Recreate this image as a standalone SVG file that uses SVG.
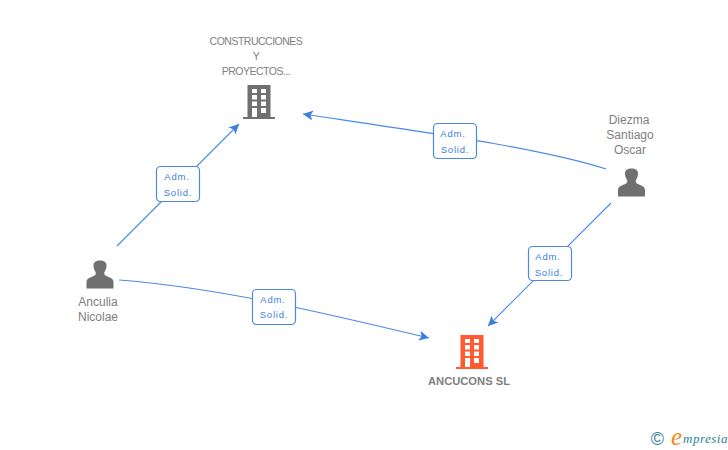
<svg xmlns="http://www.w3.org/2000/svg" width="728" height="450" viewBox="0 0 728 450">
<style>
.lab{font-family:"Liberation Sans",Arial,sans-serif;font-size:12px;fill:#808080;text-anchor:middle}
.up{font-size:10.500px;letter-spacing:-.5px}
.t{font-family:"Liberation Sans",Arial,sans-serif;font-size:9.500px;letter-spacing:.8px;fill:#3b7fdd;text-anchor:middle}
.box{fill:#fff;stroke:#4a8ae4;stroke-width:1.200}
.c{fill:none;stroke:#4a8ae4;stroke-width:1.100}
</style>
<defs>
<marker id="a" markerUnits="userSpaceOnUse" markerWidth="12" markerHeight="10" refX="10" refY="5" orient="auto"><path d="M0 0L10 5L0 10L2.500 5Z" fill="#3b7fdd"/></marker>
<g id="person"><path d="M-13.500 14V7.500C-13.500 3.500-9 3-5.500 1C-4 0-4-1.500-4.500-2.500C-6-5-6.500-7-6.500-9.500C-6.500-12-4-14 0-14C4-14 6.500-12 6.500-9.500C6.500-7 6-5 4.500-2.500C4-1.500 4 0 5.500 1C9 3 13.500 3.500 13.500 7.500V14Z" fill="#707070"/></g>
<g id="building"><path fill-rule="evenodd" d="M-11.500-17H11.500V15H16V17H-16V15H-11.500ZM-7-13V-9H-2V-13ZM2-13V-9H7V-13ZM-7-7V-2.500H-2V-7ZM2-7V-2.500H7V-7ZM-7-0.500V4H-2V-0.500ZM2-0.500V4H7V-0.500ZM-7 6V15H-2V6ZM2 6V11H7V6Z"/></g>
</defs>
<g id="connectors">
<path class="c" d="M117 246L239 124" marker-end="url(#a)"/>
<path class="c" d="M606 169C540 148 430 133 303 114" marker-end="url(#a)"/>
<path class="c" d="M611 203L488 326" marker-end="url(#a)"/>
<path class="c" d="M119 280C220 288 320 312 429 338" marker-end="url(#a)"/>
<g id="l1"><rect class="box" x="156.500" y="166.500" width="43" height="35" rx="4"/><text class="t" x="177" y="180">Adm.</text><text class="t" x="178" y="196">Solid.</text></g>
<g id="l2"><rect class="box" x="433.500" y="123.500" width="43" height="35" rx="4"/><text class="t" x="453" y="137">Adm.</text><text class="t" x="455" y="153">Solid.</text></g>
<g id="l3"><rect class="box" x="528.500" y="246.500" width="43" height="34" rx="4"/><text class="t" x="548" y="260">Adm.</text><text class="t" x="549" y="276">Solid.</text></g>
<g id="l4"><rect class="box" x="252.500" y="289.500" width="43" height="35" rx="4"/><text class="t" x="273" y="303">Adm.</text><text class="t" x="274" y="318">Solid.</text></g>
</g>
<g id="n-construcciones"><text class="lab up" x="256" y="45">CONSTRUCCIONES</text><text class="lab up" x="256" y="60">Y</text><text class="lab up" x="256" y="75">PROYECTOS...</text><use href="#building" x="259" y="102" fill="#707070"/></g>
<g id="n-diezma"><text class="lab" x="629" y="124">Diezma</text><text class="lab" x="630" y="139">Santiago</text><text class="lab" x="630" y="154">Oscar</text><use href="#person" x="631.500" y="182.500"/></g>
<g id="n-anculia"><use href="#person" x="100" y="274.500"/><text class="lab" x="98" y="306">Anculia</text><text class="lab" x="98" y="321">Nicolae</text></g>
<g id="n-ancucons"><use href="#building" x="472" y="352" fill="#ff5a30"/><text class="lab" style="font-weight:bold;font-size:11.200px" x="469" y="385">ANCUCONS SL</text></g>
<g id="logo"><text x="657.500" y="445" style="font-family:'Liberation Sans',sans-serif;font-size:18px;fill:#3f7f96;text-anchor:middle">©</text><text x="671" y="445" style="font-family:'Liberation Serif',serif;font-style:italic;font-size:25px;fill:#f08a1d">e</text><text x="683" y="443" style="font-family:'Liberation Serif',serif;font-style:italic;font-size:13px;letter-spacing:.5px;fill:#2f7f95">mpresia</text></g>
</svg>
